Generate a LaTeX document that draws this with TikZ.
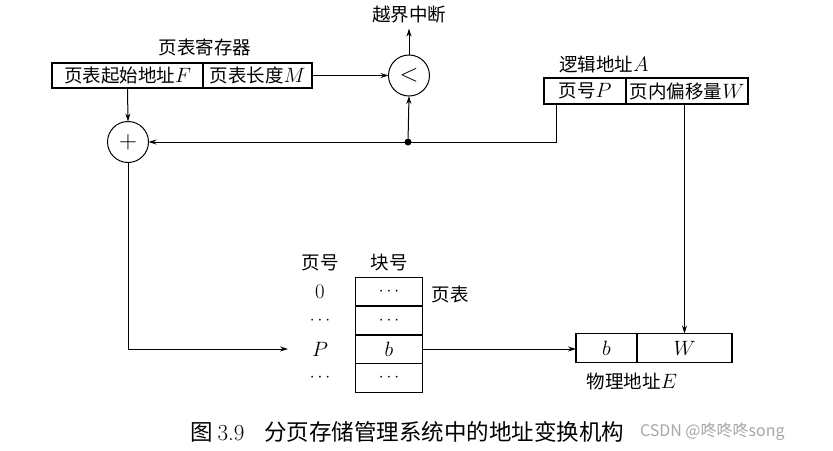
\documentclass[tikz,border=0pt]{standalone}
\usepackage{fontspec}
\newfontfamily\cjk{Noto Sans CJK SC}
\newcommand\Lt[1]{{\fontsize{21}{21}\selectfont$#1$}}
\usetikzlibrary{arrows.meta,calc}
\begin{document}
\begin{tikzpicture}[x=1pt,y=-1pt,
  every node/.style={inner sep=0pt,outer sep=0pt},
  lbl/.style={font=\cjk\fontsize{18.5}{20}\selectfont},
  cell/.style={draw,line width=1.1pt,font=\cjk\fontsize{18.5}{20}\selectfont},
  op/.style={draw,circle,line width=1pt,minimum size=41pt,font=\fontsize{26}{26}\selectfont},
  jdot/.style={circle,fill,minimum size=7pt},
  arr/.style={-{Stealth[length=8pt,width=5pt]},line width=1pt},
  ln/.style={line width=1pt}]
\useasboundingbox (0,0) rectangle (833,450);
% page table register
\node[lbl] (regT) at (205,47) {页表寄存器};
\node[cell,minimum width=151pt,minimum height=25pt] (regF) at (127.5,75.5) {页表起始地址\Lt{F}};
\node[cell,minimum width=109pt,minimum height=25pt] (regM) at (257.5,75.5) {页表长度\Lt{M}};
% comparator
\node[op] (lt) at (409,75.5) {$<$};
\node[lbl] (ovf) at (409,15) {越界中断};
\draw[arr] (regM.east) -- (lt.west);
\draw[arr,shorten >=5pt] (lt.north) -- (ovf.south);
% adder
\node[op] (plus) at (128,142) {$+$};
\draw[arr] (regF.south) -- (plus.north);
% logical address
\node[lbl] (laT) at (604,64) {逻辑地址\Lt{A}};
\node[cell,minimum width=82pt,minimum height=26pt] (lP) at (585,91) {页号\Lt{P}};
\node[cell,minimum width=122pt,minimum height=26pt] (lW) at (687,91) {页内偏移量\Lt{W}};
\node[jdot] (j) at (408,142) {};
\draw[arr] ($(lP.south west)+(12,0)$) |- (plus.east);
\draw[arr] (j) -- (lt.south);
% page table
\node[lbl] (hP) at (320,263) {页号};
\node[lbl] (hB) at (389,263) {块号};
\node[cell,minimum width=67pt,minimum height=29pt] (t0) at (389,292) {$\cdots$};
\node[cell,minimum width=67pt,minimum height=29pt] (t1) at (389,320.5) {$\cdots$};
\node[cell,minimum width=67pt,minimum height=29pt] (tP) at (389,349) {\Lt{b}};
\node[cell,minimum width=67pt,minimum height=29pt] (t3) at (389,378) {$\cdots$};
\node[lbl] (pt) at (450,294) {页表};
\node[lbl] (r0) at (320,292) {\Lt{0}};
\node[lbl] (r1) at (320,320.5) {$\cdots$};
\node[lbl] (rP) at (320,349) {\Lt{P}};
\node[lbl] (r3) at (320,378) {$\cdots$};
\coordinate (pin) at (288,349);
\draw[arr] (plus.south) |- (pin);
% physical address
\node[cell,minimum width=61pt,minimum height=29pt] (pb) at (606.5,348) {\Lt{b}};
\node[cell,minimum width=95pt,minimum height=29pt] (pW) at (684.5,348) {\Lt{W}};
\node[lbl] (paT) at (632,381) {物理地址\Lt{E}};
\draw[arr] (tP.east) -- (tP.east -| pb.west);
\draw[arr] (lW.south -| pW.north) -- (pW.north);
% caption
\node[anchor=west,font=\cjk\fontsize{22.5}{23}\selectfont] (cap) at (190,432) {图 {\rmfamily\fontsize{23}{23}\selectfont 3.9}\hspace{20pt}分页存储管理系统中的地址变换机构};
\node[anchor=west,font=\cjk\fontsize{16}{18}\selectfont,text=gray!70] (wm) at (640,432) {CSDN @咚咚咚song};
\end{tikzpicture}
\end{document}
